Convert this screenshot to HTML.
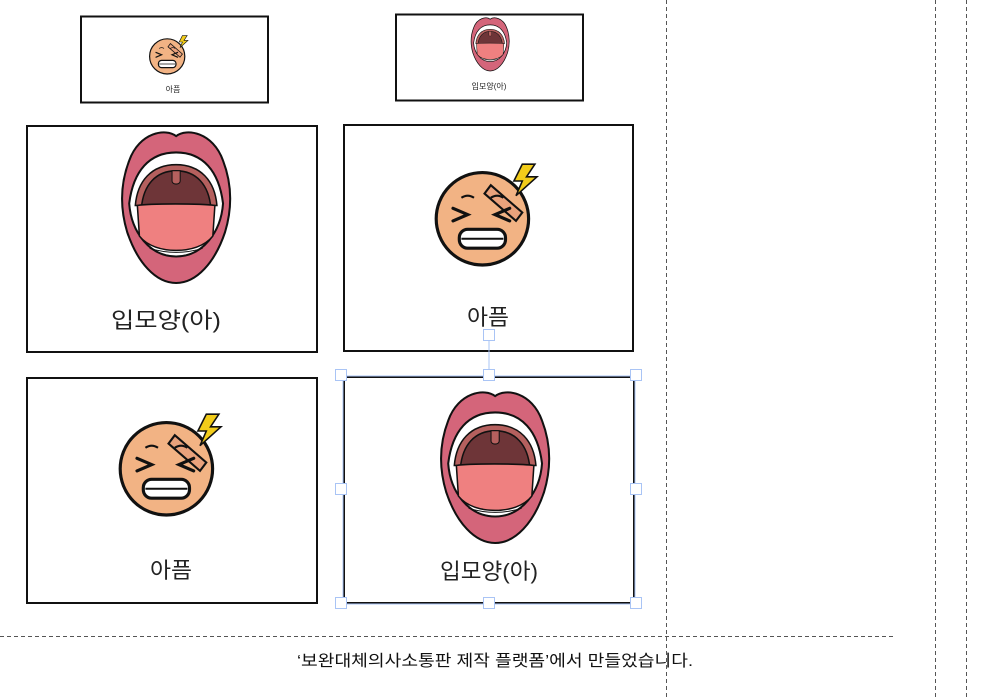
<!DOCTYPE html>
<html><head><meta charset="utf-8"><style>
body{margin:0;background:#fff;width:990px;height:700px;overflow:hidden;position:relative;font-family:"Liberation Sans","Noto Sans CJK KR",sans-serif;}
</style></head><body>
<svg width="990" height="700" viewBox="0 0 990 700" style="position:absolute;left:0;top:0">
<defs>
<g id="mouth">
  <path d="M56 6 C46 -2 20 2 10 30 C0 56 2 80 8 100 C18 130 36 150 56 150 C76 150 94 130 104 100 C110 80 112 56 102 30 C92 2 66 -2 56 6 Z" fill="#d4657a" stroke="#111" stroke-width="2"/>
  <path d="M56 22 C30 22 14 40 10 72 C12 100 30 124 56 124 C82 124 100 100 102 72 C98 40 82 22 56 22 Z" fill="#fff" stroke="#111" stroke-width="2"/>
  <path d="M56 34 C32 34 18 50 16 74 L96 74 C94 50 80 34 56 34 Z" fill="#b5605e" stroke="#111" stroke-width="1.5"/>
  <path d="M56 40 C36 40 24 54 22 76 L90 76 C88 54 76 40 56 40 Z" fill="#6e3538" stroke="#111" stroke-width="1.5"/>
  <path d="M52 40 L52 50 C52 54 60 54 60 50 L60 40 Z" fill="#b5605e" stroke="#111" stroke-width="1"/>
  <path d="M18 74 C30 72 80 72 94 74 L92 104 C84 114 70 118 56 118 C42 118 28 114 20 104 Z" fill="#ef8080" stroke="#111" stroke-width="1.5"/>
  <path d="M30 116 Q56 124 82 116" fill="none" stroke="#111" stroke-width="1"/>
</g>
<g id="face">
  <circle cx="48" cy="56" r="44" fill="#f2b384" stroke="#111" stroke-width="3"/>
  <path d="M56 24 L86 50 L80 58 L50 32 Z" fill="#eaa27c" stroke="#111" stroke-width="2"/>
  <path d="M86 4 L98 4 L90 16 L100 16 L80 34 L86 20 L78 20 Z" fill="#f2cc1a" stroke="#111" stroke-width="1.5"/>
  <path d="M20 46 L34 52 L20 58 M74 46 L60 52 L74 58" fill="none" stroke="#111" stroke-width="3" stroke-linecap="round"/>
  <path d="M28 36 Q34 32 40 36 M56 36 Q62 32 68 36" fill="none" stroke="#111" stroke-width="2"/>
  <rect x="26" y="66" width="44" height="18" rx="8" fill="#fff" stroke="#111" stroke-width="3"/>
  <path d="M28 75 L68 75" stroke="#111" stroke-width="2"/>
</g>
</defs>
<g fill="none" stroke="#111">
<rect x="81" y="16.5" width="187" height="86" stroke-width="2"/>
<rect x="396" y="14.5" width="187" height="86" stroke-width="2"/>
<rect x="27" y="126" width="290" height="226" stroke-width="2"/>
<rect x="344" y="125" width="289" height="226" stroke-width="2"/>
<rect x="27" y="378" width="290" height="225" stroke-width="2"/>
<rect x="344" y="377" width="290" height="226" stroke-width="2"/>
</g>
<use href="#face" transform="translate(148,34) scale(0.4)"/>
<use href="#mouth" transform="translate(470,17) scale(0.36)"/>
<use href="#mouth" transform="translate(119,130) scale(1.02)"/>
<use href="#face" transform="translate(432,160) scale(1.05)"/>
<use href="#face" transform="translate(116,410) scale(1.05)"/>
<use href="#mouth" transform="translate(438,390) scale(1.02)"/>
<g font-family="Liberation Sans,Noto Sans CJK KR,sans-serif" fill="#222" text-anchor="middle">
<text x="173" y="92" font-size="8">아픔</text>
<text x="489" y="89" font-size="8">입모양(아)</text>
<text x="166" y="328" font-size="22" textLength="110" lengthAdjust="spacingAndGlyphs">입모양(아)</text>
<text x="488" y="325" font-size="22" textLength="42" lengthAdjust="spacingAndGlyphs">아픔</text>
<text x="171" y="578" font-size="22" textLength="42" lengthAdjust="spacingAndGlyphs">아픔</text>
<text x="489" y="579" font-size="22" textLength="98" lengthAdjust="spacingAndGlyphs">입모양(아)</text>
<text x="495" y="666" font-size="16" fill="#111" textLength="396" lengthAdjust="spacingAndGlyphs">‘보완대체의사소통판 제작 플랫폼’에서 만들었습니다.</text>
</g>
<g stroke="#a9c4f5" fill="#fff" stroke-width="1">
<line x1="489" y1="341" x2="489" y2="370"/>
<rect x="343" y="376" width="292" height="228" fill="none"/>
<rect x="483.5" y="329.5" width="11" height="11"/>
<rect x="335.5" y="369.5" width="11" height="11"/><rect x="483.5" y="369.5" width="11" height="11"/><rect x="630.5" y="369.5" width="11" height="11"/>
<rect x="335.5" y="483.5" width="11" height="11"/><rect x="630.5" y="483.5" width="11" height="11"/>
<rect x="335.5" y="597.5" width="11" height="11"/><rect x="483.5" y="597.5" width="11" height="11"/><rect x="630.5" y="597.5" width="11" height="11"/>
</g>
<g stroke="#555" stroke-width="1" stroke-dasharray="4,3">
<line x1="666.5" y1="0" x2="666.5" y2="700"/>
<line x1="935.5" y1="0" x2="935.5" y2="700"/>
<line x1="966.5" y1="0" x2="966.5" y2="700"/>
<line x1="0" y1="636.5" x2="895" y2="636.5"/>
</g>
</svg>
</body></html>
